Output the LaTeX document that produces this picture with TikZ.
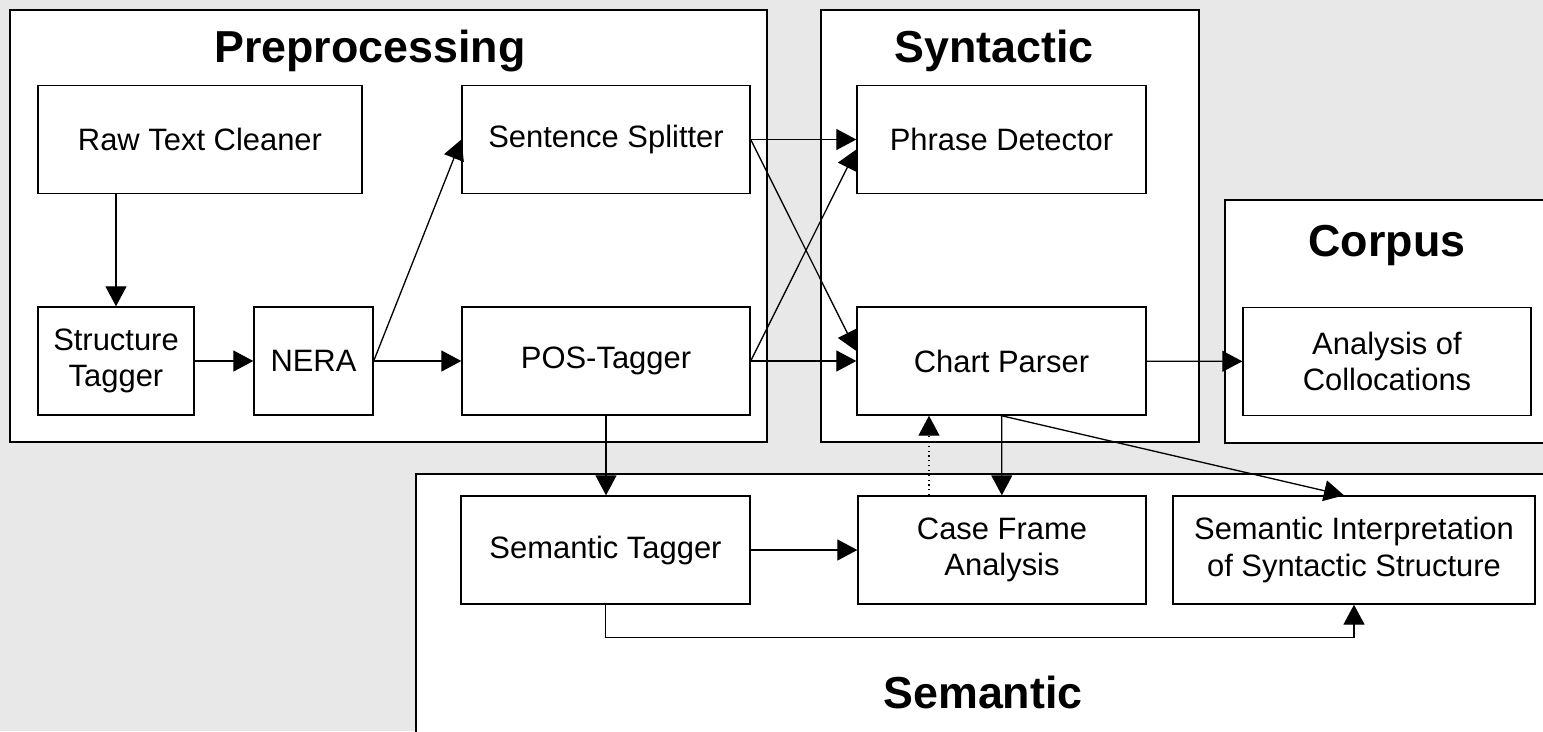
\documentclass[tikz,border=0pt]{standalone}
\usepackage{fontspec}
\setmainfont{Liberation Sans}
\usetikzlibrary{positioning, arrows.meta}
\definecolor{bggray}{RGB}{232,232,232}

\begin{document}
\begin{tikzpicture}[x=0.02cm, y=-0.02cm,
        block/.style={shape=rectangle, draw=black, fill=white, line width=0.8pt, align=center,
            inner sep=0pt, minimum height=2.16cm, font=\fontsize{17.6}{20.5}\selectfont},
        group/.style={draw=black, fill=white, line width=0.8pt},
        title/.style={anchor=base, font=\fontsize{25.5}{30}\selectfont\bfseries},
        arr/.style={-{Triangle[length=0.4cm, width=0.42cm]}, line width=0.75pt}]
                    \useasboundingbox (0, 0) rectangle (1543, 731);
                    \fill [bggray] (0, 0) rectangle (1543, 731);
                    \clip (0, 0) rectangle (1543, 731);

                    % frames
                    \draw [group] (10, 10) rectangle (767, 442);
                    \draw [group] (821, 10) rectangle (1199, 442);
                    \draw [group] (1225, 200) rectangle (1560, 443);
                    \draw [group] (416, 474) rectangle (1560, 760);

                    \node [title] (preptitle) at (370, 62) {Preprocessing};
                    \node [title] (synttitle) at (994, 62) {Syntactic};
                    \node [title] (corptitle) at (1387, 256) {Corpus};
                    \node [title] (semtitle) at (983, 708) {Semantic};

                    \node [block, minimum width=6.48cm] (raw) at (200, 139.5) {Raw Text Cleaner};
                    \node [block, minimum width=5.76cm] (split) at (606, 139.5) {Sentence Splitter};
                    \node [block, minimum width=3.12cm] (struct) at (116, 361) {Structure\\Tagger};
                    \node [block, minimum width=2.38cm] (nera) at (313.5, 361) {NERA};
                    \node [block, minimum width=5.76cm] (pos) at (606, 361) {POS-Tagger};
                    \node [block, minimum width=5.78cm] (phrase) at (1001.5, 139.5) {Phrase Detector};
                    \node [block, minimum width=5.78cm] (chart) at (1001.5, 361) {Chart Parser};
                    \node [block, minimum width=5.76cm] (colloc) at (1387, 361.5) {Analysis of\\Collocations};
                    \node [block, minimum width=5.78cm] (semtag) at (605.5, 550) {Semantic Tagger};
                    \node [block, minimum width=5.76cm] (caseframe) at (1002, 550) {Case Frame\\Analysis};
                    \node [block, minimum width=7.24cm] (semint) at (1354, 550) {Semantic Interpretation\\of Syntactic Structure};
                    \coordinate (back) at (929, 0);

                    \draw [arr] (raw.south -| struct.north) -- (struct.north);
                    \draw [arr] (struct) -- (nera);
                    \draw [arr] (nera) -- (pos);
                    \draw [arr] (nera.east) -- (split.west);
                    \draw [arr] (split) -- (phrase);
                    \draw [arr] (split.east) -- ([yshift=0.2cm]chart.west);
                    \draw [arr] (pos.east) -- ([yshift=-0.2cm]phrase.west);
                    \draw [arr] (pos) -- (chart);
                    \draw [arr] (chart) -- (colloc);
                    \draw [arr] (pos.south) -- (pos.south |- semtag.north);
                    \draw [arr] (chart) -- (caseframe);
                    \draw [arr] (chart.south) -- ([xshift=-0.2cm]semint.north);
                    \draw [arr, dotted] (caseframe.north -| back) -- (chart.south -| back);
                    \draw [arr] (semtag) -- (caseframe);
                    \draw [arr] (semtag.south) -- ++(0, 33) -| (semint.south);
                \end{tikzpicture}
\end{document}
